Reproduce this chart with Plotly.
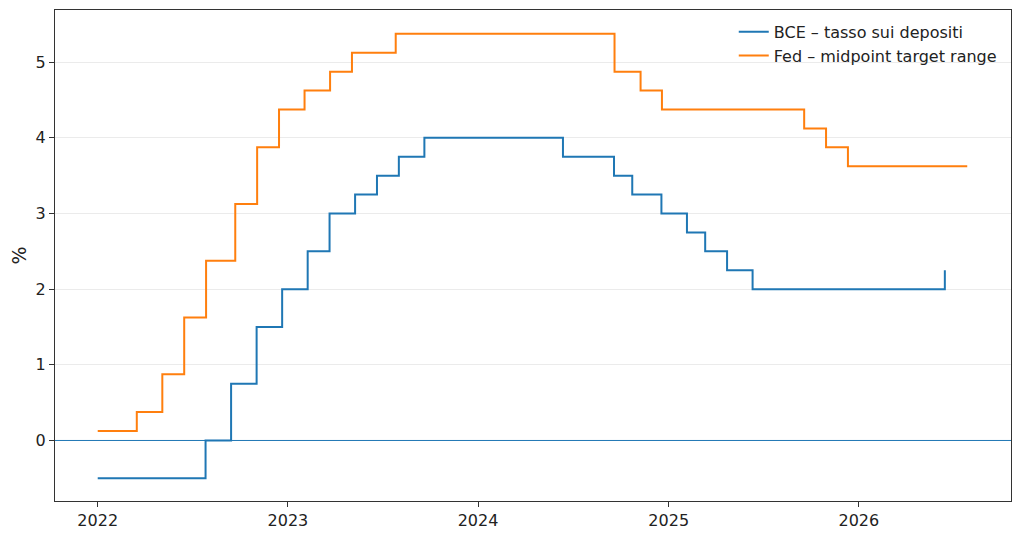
import plotly.graph_objects as go

# ECB deposit facility rate (step changes, effective dates)
bce_dates = [
    "2022-01-01", "2022-07-27", "2022-09-14", "2022-11-02", "2022-12-21",
    "2023-02-08", "2023-03-22", "2023-05-10", "2023-06-21", "2023-08-02",
    "2023-09-20", "2024-06-12", "2024-09-18", "2024-10-23", "2024-12-18",
    "2025-02-05", "2025-03-12", "2025-04-23", "2025-06-11", "2026-06-15",
]
bce_rate = [
    -0.50, 0.00, 0.75, 1.50, 2.00,
    2.50, 3.00, 3.25, 3.50, 3.75,
    4.00, 3.75, 3.50, 3.25, 3.00,
    2.75, 2.50, 2.25, 2.00, 2.25,
]

# Fed funds target range, midpoint
fed_dates = [
    "2022-01-01", "2022-03-17", "2022-05-05", "2022-06-16", "2022-07-28",
    "2022-09-22", "2022-11-03", "2022-12-15", "2023-02-02", "2023-03-23",
    "2023-05-04", "2023-07-27", "2024-09-19", "2024-11-08", "2024-12-19",
    "2025-09-18", "2025-10-30", "2025-12-11", "2026-07-28",
]
fed_rate = [
    0.125, 0.375, 0.875, 1.625, 2.375,
    3.125, 3.875, 4.375, 4.625, 4.875,
    5.125, 5.375, 4.875, 4.625, 4.375,
    4.125, 3.875, 3.625, 3.625,
]

year_ticks = ["2022-01-01", "2023-01-01", "2024-01-01", "2025-01-01", "2026-01-01"]
year_labels = ["2022", "2023", "2024", "2025", "2026"]

BLUE = "#1f77b4"
ORANGE = "#ff7f0e"

fig = go.Figure()
fig.add_trace(go.Scatter(
    x=bce_dates, y=bce_rate, mode="lines", line_shape="hv",
    line=dict(color=BLUE, width=2), name="BCE – tasso sui depositi",
))
fig.add_trace(go.Scatter(
    x=fed_dates, y=fed_rate, mode="lines", line_shape="hv",
    line=dict(color=ORANGE, width=2), name="Fed – midpoint target range",
))

# zero reference line
fig.add_hline(y=0, line=dict(color=BLUE, width=1), layer="above")

# page body has an 8px margin, so the figure is sized to fit inside the window
fig.update_layout(
    width=1016, height=531,
    margin=dict(l=47, r=13, t=2, b=38),
    paper_bgcolor="white", plot_bgcolor="white",
    font=dict(family="DejaVu Sans", size=16, color="#222"),
    legend=dict(
        x=0.71, y=0.99, xanchor="left", yanchor="top",
        bgcolor="rgba(0,0,0,0)", font=dict(size=16),
        itemwidth=30,
    ),
)
fig.update_xaxes(
    type="date", range=["2021-10-11", "2026-10-20"],
    tickvals=year_ticks, ticktext=year_labels,
    ticks="outside", ticklen=5, tickcolor="#333", tickwidth=1,
    showgrid=False, zeroline=False, automargin=False,
    showline=True, linecolor="#333", linewidth=1.3, mirror=True,
)
fig.update_yaxes(
    range=[-0.80, 5.69], tickvals=[0, 1, 2, 3, 4, 5],
    ticks="outside", ticklen=5, tickcolor="#333", tickwidth=1,
    showgrid=True, gridcolor="#ebebeb", gridwidth=1, zeroline=False,
    showline=True, linecolor="#333", linewidth=1.3, mirror=True,
    automargin=False,
    title=dict(text="%", standoff=6),
)

fig.write_html("out.html")
